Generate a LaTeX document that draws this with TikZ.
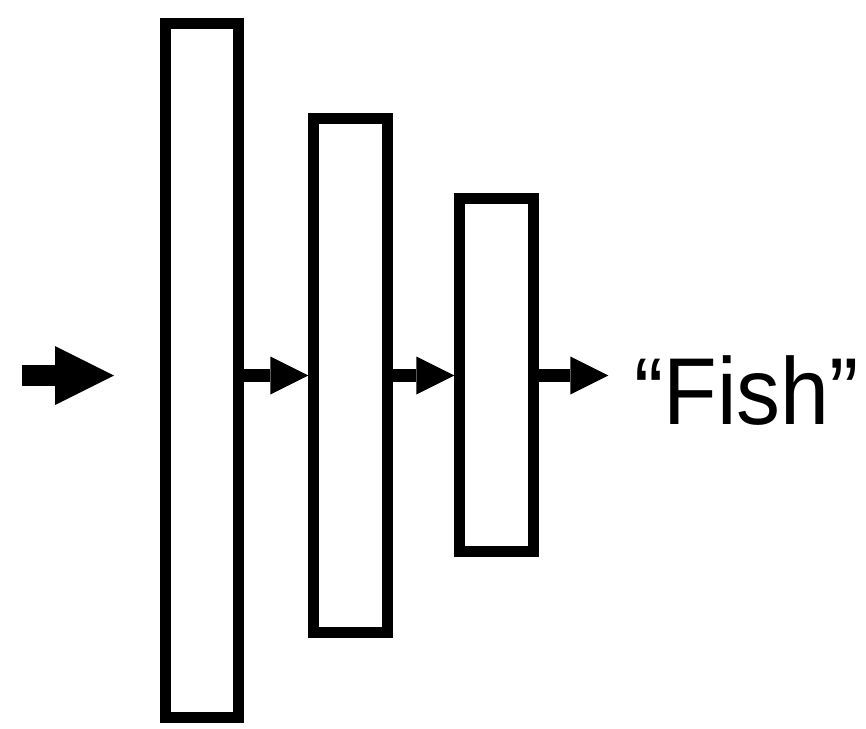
\documentclass[tikz,border=0pt]{standalone}
\usepackage{fontspec}
\setmainfont{Liberation Sans}
\usetikzlibrary{arrows.meta}
\begin{document}
\begin{tikzpicture}[x=1pt,y=-1pt,
  layer/.style={draw=black,line width=11pt,fill=white,inner sep=0pt,outer sep=0.5\pgflinewidth,minimum width=73.4pt},
  flow/.style={line width=13pt,-{Triangle[length=38pt,width=38pt,line width=0pt]}},
  inflow/.style={line width=21pt,-{Triangle[length=59pt,width=59pt,line width=0pt]}},
  label/.style={font=\fontsize{95}{100}\selectfont,inner sep=0pt,anchor=base west}]
  \useasboundingbox (0,0) rectangle (866,728);
  % the three stacked layers
  \node[layer,minimum height=693.7pt] (b1) at (201.75,370.35) {};
  \node[layer,minimum height=513.4pt] (b2) at (350.5,375.5) {};
  \node[layer,minimum height=353pt]   (b3) at (496.5,375.3) {};
  % output label, slightly condensed
  \node[label] (out) at (634,424.3) {\scalebox{0.925}[1]{“Fish”}};
  % input arrow
  \coordinate (src) at (22,375.5);
  \coordinate (entry) at (114,375.5);
  \draw[inflow] (src) -- (entry);
  % arrows between layers
  \draw[flow] (b1.east |- b2.west) -- (b2.west);
  \draw[flow] (b2.east) -- (b3.west |- b2.east);
  \coordinate (outtip) at (608.3,375.5);
  \draw[flow] (b3.east |- outtip) -- (outtip);
\end{tikzpicture}
\end{document}
